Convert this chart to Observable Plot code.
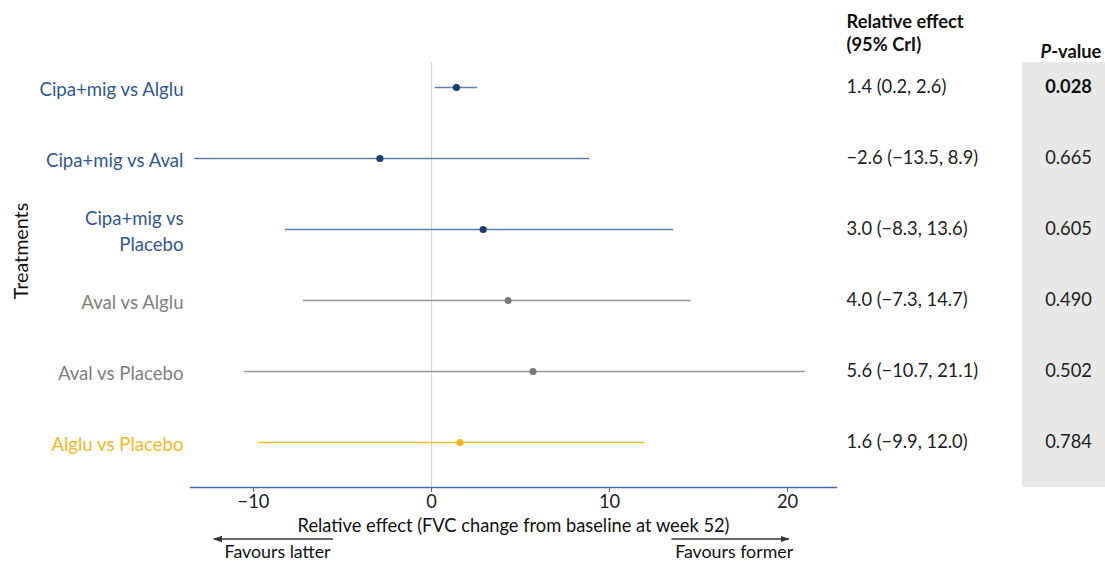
<!DOCTYPE html>
<html>
<head>
<meta charset="utf-8">
<script src="https://cdn.jsdelivr.net/npm/d3@7"></script>
<script src="https://cdn.jsdelivr.net/npm/@observablehq/plot@0.6"></script>
<style>
  html, body { margin: 0; padding: 0; background: #fff; }
  svg { font-family: Lato, "Noto Sans", sans-serif; }
</style>
</head>
<body>
<div id="chart"></div>
<script>
// ---- data ----
const labels = ["Cipa+mig vs Alglu", "Cipa+mig vs Aval", "Cipa+mig vs\nPlacebo", "Aval vs Alglu", "Aval vs Placebo", "Alglu vs Placebo"];
const groups = ["cipa", "cipa", "cipa", "aval", "aval", "alglu"];
const estimates = [1.4, -2.9, 2.9, 4.3, 5.7, 1.6];
const lower = [0.2, -13.3, -8.2, -7.2, -10.5, -9.7];
const upper = [2.6, 8.9, 13.6, 14.6, 21.0, 12.0];
const effectTexts = ["1.4 (0.2, 2.6)", "\u22122.6 (\u221213.5, 8.9)", "3.0 (\u22128.3, 13.6)", "4.0 (\u22127.3, 14.7)", "5.6 (\u221210.7, 21.1)", "1.6 (\u22129.9, 12.0)"];
const pValues = ["0.028", "0.665", "0.605", "0.490", "0.502", "0.784"];
const significant = [true, false, false, false, false, false];
const xTicks = [-10, 0, 10, 20];
const favourLabels = [{text: "Favours latter", from: -5.5, to: -12.2}, {text: "Favours former", from: 13.5, to: 20.1}];

// ---- styles ----
const labelColor = {cipa: "#2f5a8f", aval: "#808080", alglu: "#f6b826"};
const lineColor = {cipa: "#5e80ad", aval: "#9a9a9a", alglu: "#f8bf2c"};
const dotColor = {cipa: "#1d3f6e", aval: "#7a7a7a", alglu: "#f5b21a"};
const FS = 18.3;

const rows = labels.map((label, i) => ({
  label, group: groups[i], est: estimates[i], lo: lower[i], hi: upper[i],
  effect: effectTexts[i], p: pValues[i], sig: significant[i]
}));

const W = 1105, H = 563;
const chart = Plot.plot({
  width: W, height: H,
  marginTop: 62, marginBottom: 76, marginLeft: 190, marginRight: 269,
  style: {fontFamily: "Lato, 'Noto Sans', sans-serif", background: "#fff"},
  x: {domain: [-13.54, 22.75]},
  y: {type: "point", domain: labels, range: [86, 443], padding: 0, axis: null},
  color: {type: "identity"},
  marks: [
    Plot.ruleX([0], {stroke: "#d6d6d6", strokeWidth: 1.2}),
    Plot.ruleY(rows, {y: "label", x1: "lo", x2: "hi", stroke: d => lineColor[d.group], strokeWidth: 1.6}),
    Plot.dot(rows, {x: "est", y: "label", r: 3.6, fill: d => dotColor[d.group], stroke: "none"}),
    Plot.text(rows, {y: "label", text: "label", frameAnchor: "left", dx: -7, textAnchor: "end",
      fill: d => labelColor[d.group], fontSize: FS + 0.3, lineHeight: 1.4}),
    Plot.text(rows, {y: "label", text: "effect", frameAnchor: "right", dx: 10, textAnchor: "start",
      fill: "#222", fontSize: FS}),
    Plot.text(rows.filter(d => d.sig), {y: "label", text: "p", frameAnchor: "right", dx: 232,
      textAnchor: "middle", fill: "#111", fontSize: FS, fontWeight: "bold"}),
    Plot.text(rows.filter(d => !d.sig), {y: "label", text: "p", frameAnchor: "right", dx: 232,
      textAnchor: "middle", fill: "#222", fontSize: FS}),
    Plot.text(["Relative effect"], {frameAnchor: "top-right", lineAnchor: "middle", dx: 10, dy: -40,
      textAnchor: "start", fontWeight: "bold", fontSize: FS, fill: "#111"}),
    Plot.text(["(95% CrI)"], {frameAnchor: "top-right", lineAnchor: "middle", dx: 10, dy: -17,
      textAnchor: "start", fontWeight: "bold", fontSize: FS, fill: "#111"}),
    Plot.text(["Treatments"], {frameAnchor: "left", lineAnchor: "middle", textAnchor: "middle",
      dx: -169, dy: -24, rotate: -90, fontSize: 19.7, fill: "#111"}),
    Plot.frame({anchor: "bottom", stroke: "#4a6c9c", strokeWidth: 1.3}),
    Plot.axisX({ticks: xTicks, tickSize: 5, tickPadding: 2, stroke: "#4a6c9c", fill: "#222",
      fontSize: FS, label: null,
      tickFormat: d => d < 0 ? "\u2212" + Math.abs(d) : String(d)}),
    Plot.text(["Relative effect (FVC change from baseline at week 52)"], {frameAnchor: "bottom",
      lineAnchor: "middle", dy: 39, fontSize: FS, fill: "#111"}),
    Plot.text(favourLabels, {x: d => (d.from + d.to) / 2 + 0.2, text: "text", frameAnchor: "bottom",
      lineAnchor: "middle", dy: 65, fontSize: 17.8, fill: "#111"})
  ]
});

document.getElementById("chart").appendChild(chart);

// ---- annotations drawn with the plot's own x scale ----
const svg = d3.select(chart);
const xs = chart.scale("x");
const [xr0, xr1] = xs.range;

// grey P-value band behind the p-value text
svg.insert("rect", ":first-child")
  .attr("x", xr1 + 186).attr("y", 62)
  .attr("width", W - (xr1 + 186)).attr("height", H - 62 - 76)
  .attr("fill", "#e7e8e7");
svg.insert("rect", ":first-child").attr("width", W).attr("height", H).attr("fill", "#fff");

// P-value header with italic P
const ph = svg.append("text")
  .attr("x", xr1 + 235).attr("y", 52)
  .attr("text-anchor", "middle")
  .attr("font-size", FS).attr("font-weight", "bold").attr("fill", "#111")
  .attr("dy", "0.32em");
ph.append("tspan").attr("font-style", "italic").text("P");
ph.append("tspan").text("-value");

// arrows
const defs = svg.append("defs");
defs.append("marker").attr("id", "arrowhead")
  .attr("viewBox", "0 0 10 10").attr("refX", 9).attr("refY", 5)
  .attr("markerWidth", 7).attr("markerHeight", 7).attr("orient", "auto-start-reverse")
  .append("path").attr("d", "M0,1.5 L10,5 L0,8.5 Z").attr("fill", "#333");
svg.selectAll("line.fav").data(favourLabels).join("line")
  .attr("class", "fav")
  .attr("x1", d => xs.apply(d.from)).attr("x2", d => xs.apply(d.to))
  .attr("y1", H - 24).attr("y2", H - 24)
  .attr("stroke", "#333").attr("stroke-width", 1.3)
  .attr("marker-end", "url(#arrowhead)");
</script>
</body>
</html>
